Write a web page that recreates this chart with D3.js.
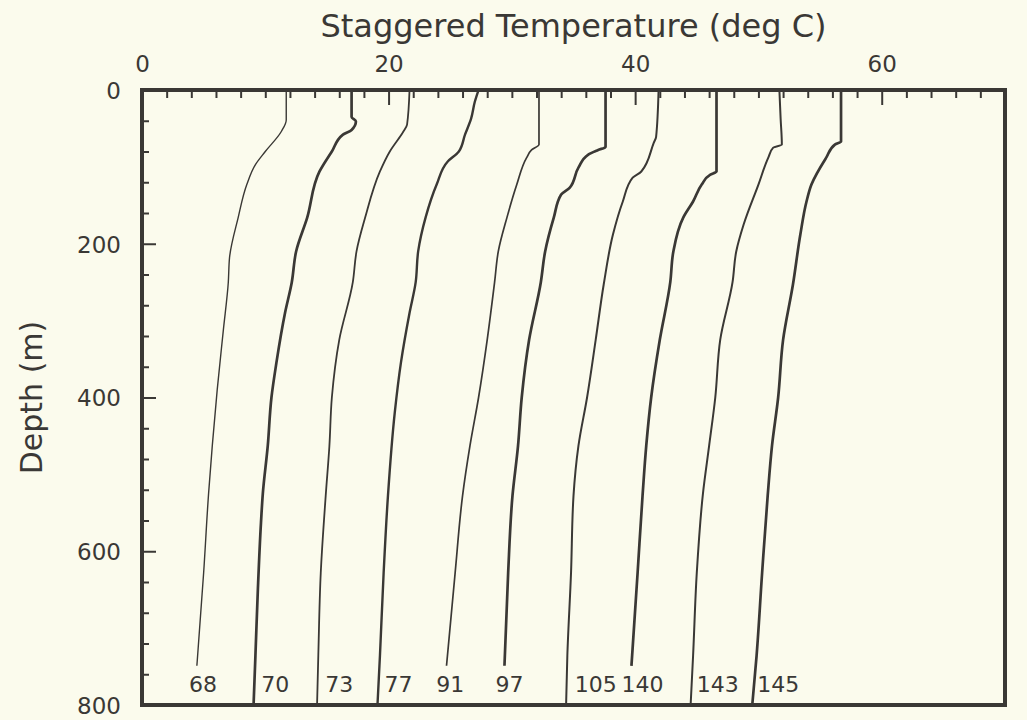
<!DOCTYPE html>
<html>
<head>
<meta charset="utf-8">
<script src="https://cdn.jsdelivr.net/npm/d3@7"></script>
<style>
  html, body { margin: 0; padding: 0; background: #fbfbed; }
  svg { display: block; }
</style>
</head>
<body>
<script>
// ---- Data (depth m, temperature deg C, staggered) ----
const castLabels = ["68", "70", "73", "77", "91", "97", "105", "140", "143", "145"];
const labelTemps = [4.95, 10.8, 16.0, 20.8, 25.0, 29.8, 36.8, 40.6, 46.7, 51.6];

const cast68 = [[0,11.7],[39,11.7],[54,11.3],[80,10.0],[97,9.2],[123,8.5],[166,7.8],[218,7.1],[250,7.0],[312,6.6],[390,6.1],[463,5.7],[525,5.4],[628,5.0],[749,4.45]];
const cast70 = [[0,17.0],[35,17.0],[41,17.35],[52,17.0],[58,16.3],[80,15.4],[106,14.4],[166,13.4],[210,12.5],[250,12.15],[290,11.6],[355,10.9],[400,10.5],[463,10.2],[525,9.8],[563,9.65],[649,9.4],[736,9.2],[800,9.05]];
const cast73 = [[0,21.7],[45,21.5],[54,21.2],[80,20.1],[106,19.3],[166,18.1],[210,17.4],[250,17.1],[325,16.0],[400,15.4],[463,15.2],[528,14.9],[628,14.5],[736,14.3],[800,14.2]];
const cast77 = [[0,27.3],[15,27.0],[37,26.7],[58,26.2],[80,25.7],[93,24.8],[123,23.9],[166,23.0],[210,22.4],[250,22.2],[290,21.7],[355,21.0],[420,20.5],[528,19.95],[628,19.6],[736,19.3],[800,19.1]];
const cast91 = [[0,32.2],[71,32.2],[78,31.6],[88,31.2],[123,30.4],[166,29.6],[210,28.9],[250,28.6],[325,28.0],[400,27.3],[463,26.6],[528,26.0],[628,25.4],[749,24.7]];
const cast97 = [[0,37.6],[74,37.6],[78,37.0],[84,36.2],[101,35.4],[127,34.7],[136,34.0],[166,33.4],[210,32.7],[250,32.35],[325,31.4],[400,30.8],[463,30.5],[528,30.05],[628,29.7],[749,29.4]];
const cast105 = [[0,41.9],[61,41.7],[69,41.5],[106,40.5],[114,39.8],[145,39.0],[188,38.2],[253,37.45],[325,36.8],[400,36.1],[463,35.4],[528,35.0],[628,34.8],[736,34.5],[800,34.4]];
const cast140 = [[0,46.6],[106,46.6],[110,46.1],[123,45.4],[145,44.7],[166,43.9],[210,43.1],[250,42.85],[325,42.0],[400,41.3],[463,40.9],[528,40.6],[628,40.2],[749,39.7]];
const cast143 = [[0,51.7],[37,51.8],[71,51.9],[75,51.2],[88,50.8],[123,50.0],[175,48.8],[210,48.2],[250,47.9],[325,46.9],[400,46.5],[463,46.0],[525,45.5],[628,45.0],[736,44.7],[800,44.5]];
const cast145 = [[0,56.7],[67,56.7],[71,56.2],[88,55.5],[123,54.3],[145,53.9],[188,53.4],[253,52.8],[325,52.0],[400,51.6],[463,51.1],[528,50.75],[628,50.3],[736,49.85],[800,49.5]];

const casts = [cast68, cast70, cast73, cast77, cast91, cast97, cast105, cast140, cast143, cast145];

const xTickLabels = [0, 20, 40, 60];
const yTickLabels = [0, 200, 400, 600, 800];

// ---- Layout / style ----
const W = 1027, H = 720;
const ink = "#3a3835";
const font = "DejaVu Sans, sans-serif";
const strokeWidths = [1.4, 2.7, 1.8, 2.4, 1.7, 2.7, 2.0, 2.7, 2.0, 2.7];

const x = d3.scaleLinear().domain([0, 70]).range([142, 1005]);
const y = d3.scaleLinear().domain([0, 800]).range([90, 705]);

const svg = d3.select("body").append("svg").attr("width", W).attr("height", H);
svg.append("rect").attr("width", W).attr("height", H).attr("fill", "#fbfbed");

const xMinor = d3.range(2, 70, 2).filter(v => v % 20 !== 0);
const xMajor = [20, 40, 60];
const yMinor = d3.range(40, 800, 40).filter(v => v % 200 !== 0);
const yMajor = [200, 400, 600];

function styleAxis(g) {
  g.select(".domain").remove();
  g.selectAll("line").attr("stroke", ink).attr("stroke-width", 2);
  g.selectAll("text").attr("fill", ink).attr("font-family", font);
}

svg.append("g").attr("transform", `translate(0,${y(0)})`)
  .call(d3.axisTop(x).tickValues(xMinor).tickSize(-8).tickFormat(""))
  .call(styleAxis);
svg.append("g").attr("transform", `translate(0,${y(0)})`)
  .call(d3.axisTop(x).tickValues(xMajor).tickSize(-15).tickFormat(""))
  .call(styleAxis);
svg.append("g").attr("transform", `translate(0,${y(0)})`)
  .call(d3.axisTop(x).tickValues(xTickLabels).tickSize(0).tickPadding(18).tickFormat(d3.format("d")))
  .call(styleAxis)
  .call(g => g.selectAll("text").attr("font-size", 23));

svg.append("g").attr("transform", `translate(${x(0)},0)`)
  .call(d3.axisLeft(y).tickValues(yMinor).tickSize(-7).tickFormat(""))
  .call(styleAxis);
svg.append("g").attr("transform", `translate(${x(0)},0)`)
  .call(d3.axisLeft(y).tickValues(yMajor).tickSize(-14).tickFormat(""))
  .call(styleAxis);
svg.append("g").attr("transform", `translate(${x(0)},0)`)
  .call(d3.axisLeft(y).tickValues(yTickLabels).tickSize(0).tickPadding(21).tickFormat(d3.format("d")))
  .call(styleAxis)
  .call(g => g.selectAll("text").attr("font-size", 23).attr("dy", "0.36em"));

// profiles
const line = d3.line().x(d => x(d[1])).y(d => y(d[0])).curve(d3.curveMonotoneY);
svg.append("g").selectAll("path").data(casts).join("path")
  .attr("d", line)
  .attr("fill", "none")
  .attr("stroke", ink)
  .attr("stroke-width", (d, i) => strokeWidths[i])
  .attr("stroke-linejoin", "round")
  .attr("stroke-linecap", "butt");

// cast labels
svg.append("g").selectAll("text").data(castLabels).join("text")
  .attr("x", (d, i) => x(labelTemps[i]))
  .attr("y", 692)
  .attr("text-anchor", "middle")
  .attr("font-family", font)
  .attr("font-size", 22)
  .attr("fill", ink)
  .text(d => d);

// frame
svg.append("rect")
  .attr("x", x(0)).attr("y", y(0))
  .attr("width", x(70) - x(0)).attr("height", y(800) - y(0))
  .attr("fill", "none").attr("stroke", ink).attr("stroke-width", 4);

// titles
svg.append("text")
  .attr("x", (x(0) + x(70)) / 2).attr("y", 37)
  .attr("text-anchor", "middle")
  .attr("font-family", font).attr("font-size", 32).attr("fill", ink)
  .text("Staggered Temperature (deg C)");

svg.append("text")
  .attr("transform", `translate(42,${(y(0) + y(800)) / 2}) rotate(-90)`)
  .attr("text-anchor", "middle")
  .attr("font-family", font).attr("font-size", 30).attr("fill", ink)
  .text("Depth (m)");
</script>
</body>
</html>
